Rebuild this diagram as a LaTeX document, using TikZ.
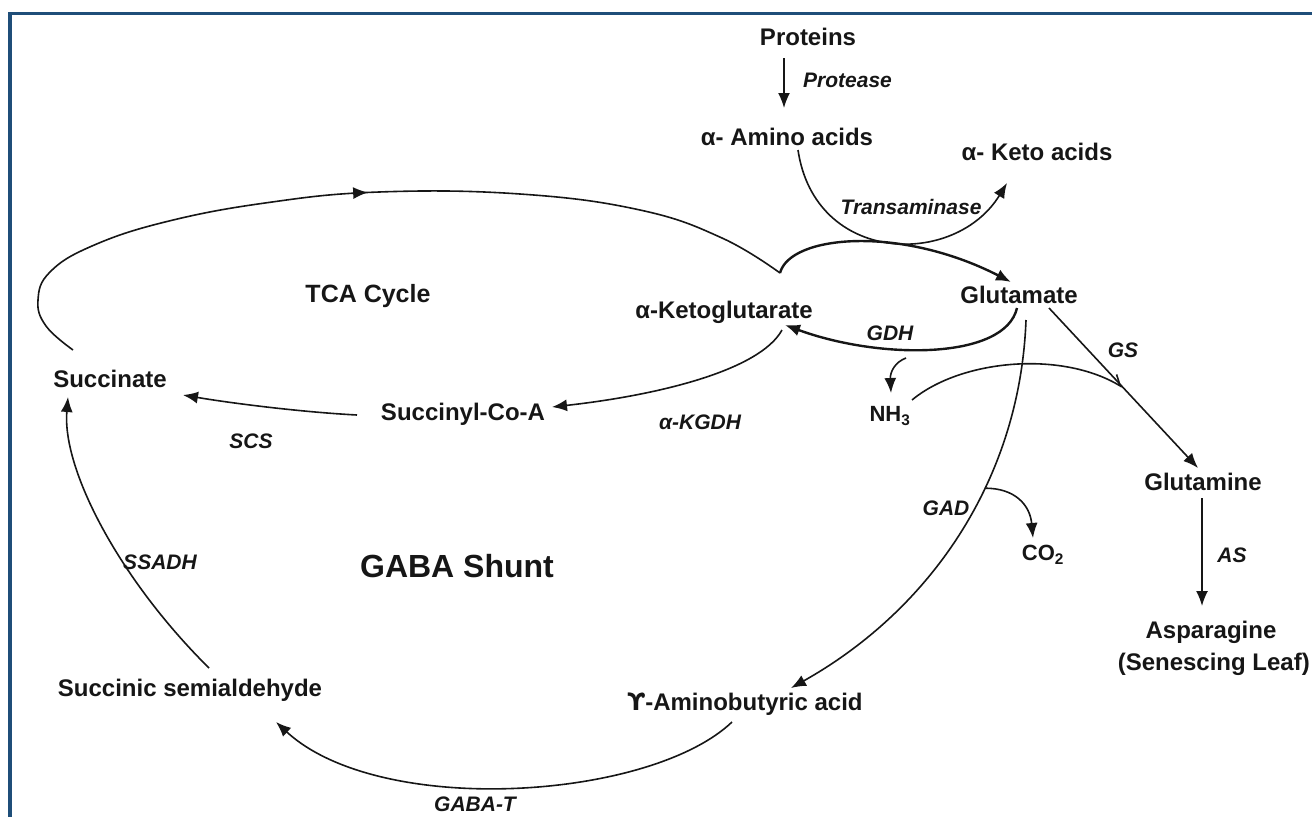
\documentclass[tikz,border=0pt]{standalone}
\usepackage{fontspec}
\setmainfont{Liberation Sans}
\newfontfamily\dejavu{DejaVu Sans}
\usetikzlibrary{arrows.meta,decorations.markings}
\definecolor{frameblue}{RGB}{31,78,121}
\definecolor{ink}{RGB}{22,22,22}
\begin{document}
\begin{tikzpicture}[x=1pt,y=-1pt,
  met/.style={font=\fontsize{24}{28}\selectfont\bfseries, inner sep=0pt, text height=17pt, text depth=0pt, text=ink},
  enz/.style={font=\fontsize{21}{25}\selectfont\bfseries\itshape, inner sep=0pt, text height=15pt, text depth=0pt, text=ink},
  conn/.style={draw=ink, line width=1.6pt},
  boldconn/.style={draw=ink, line width=2.4pt},
  arr/.style={-{Latex[length=15pt,width=12pt]}},
  midarrow/.style={postaction={decorate}, decoration={markings, mark=at position #1 with {\arrow{Latex[length=15pt,width=12pt]}}}}
]
\useasboundingbox (0,0) rectangle (1312,817);
% frame
\fill[frameblue] (8,12) rectangle (1312,15);
\fill[frameblue] (8,12) rectangle (12,817);

% metabolites
\node[met] (prot) at (808,37) {Proteins};
\node[met] (amino) at (787,137) {α- Amino acids};
\node[met] (keto) at (1037,152) {α- Keto acids};
\node[met, font=\fontsize{25}{29}\selectfont\bfseries] (tca) at (368,294) {TCA Cycle};
\node[met] (akg) at (724,310) {α-Ketoglutarate};
\node[met] (glu) at (1019,295) {Glutamate};
\node[met] (succ) at (110,379) {Succinate};
\node[met] (succoa) at (463,412) {Succinyl-Co-A};
\node[met, font=\fontsize{22}{26}\selectfont\bfseries] (nh3) at (890,413) {NH\textsubscript{3}};
\node[met] (gln) at (1203,482) {Glutamine};
\node[met, font=\fontsize{22}{26}\selectfont\bfseries] (co2) at (1043,552) {CO\textsubscript{2}};
\node[met, font=\fontsize{32}{36}\selectfont\bfseries, text height=23pt] (shunt) at (457,566) {GABA Shunt};
\node[met] (asn) at (1211,630) {Asparagine};
\node[met, anchor=east] (sen) at (1310,662) {(Senescing Leaf)};
\node[met] (ssa) at (190,688) {Succinic semialdehyde};
\node[met] (gaba) at (745,702) {{\dejavu ϒ}-Aminobutyric acid};

% enzymes
\node[enz, anchor=west] (protease) at (803,80) {Protease};
\node[enz] (transam) at (911,207) {Transaminase};
\node[enz] (gdh) at (890,333) {GDH};
\node[enz] (gs) at (1123,350) {GS};
\node[enz] (akgdh) at (700,422) {α-KGDH};
\node[enz] (scs) at (251,441) {SCS};
\node[enz] (gad) at (946,508) {GAD};
\node[enz] (asl) at (1232,555) {AS};
\node[enz] (ssadh) at (160,562) {SSADH};
\node[enz] (gabat) at (475,804) {GABA-T};

% connector end points
\coordinate (protS) at (784,58);
\coordinate (aminoN) at (784,108);
\coordinate (aminoS) at (798,150);
\coordinate (ketoW) at (1007,183);
\coordinate (cusp) at (780,273);
\coordinate (gluN) at (1011,282);
\coordinate (gluS1) at (1017,308);
\coordinate (akgE) at (785,325);
\coordinate (akgS) at (782,330);
\coordinate (succoaE) at (552,407);
\coordinate (succoaW) at (357,415);
\coordinate (succE) at (183,395);
\coordinate (succN) at (73,350);
\coordinate (succS) at (68,397);
\coordinate (ssaN) at (209,668);
\coordinate (gabaS) at (732,722);
\coordinate (ssaS) at (276,722);
\coordinate (gluS2) at (1026,320);
\coordinate (gabaN) at (791,688);
\coordinate (gluE) at (1049,308);
\coordinate (glnN) at (1198,468);
\coordinate (glnS) at (1202,498);
\coordinate (asnN) at (1202,606);
\coordinate (nhA) at (906,358);
\coordinate (nh3N) at (891,393);
\coordinate (nh3E) at (912,400);
\coordinate (gsMeet) at (1122,387);
\coordinate (co2N) at (1033,538);

% connectors
\draw[conn, arr] (protS) -- (aminoN);
\draw[conn, arr] (aminoS) .. controls (815,265) and (955,268) .. (ketoW);
\draw[boldconn, arr] (cusp) .. controls (790,235) and (900,225) .. (gluN);
\draw[conn, midarrow=0.5] plot[smooth, tension=0.7] coordinates
  {(succN) (46,326) (38,300) (50,272) (92,246) (165,222) (265,203) (379,192) (520,194) (640,210) (722,238) (cusp)};
\draw[boldconn, arr] (gluS1) .. controls (1005,360) and (880,360) .. (akgE);
\draw[conn, arr] (akgS) .. controls (760,370) and (660,395) .. (succoaE);
\draw[conn, arr] (succoaW) .. controls (300,412) and (230,403) .. (succE);
\draw[conn, arr] (ssaN) .. controls (120,580) and (62,470) .. (succS);
\draw[conn, arr] (gabaS) .. controls (650,800) and (380,818) .. (ssaS);
\draw[conn, arr] (gluS2) .. controls (1020,480) and (930,610) .. coordinate[pos=0.38] (gadpt) (gabaN);
\draw[conn, arr] (gadpt) .. controls (1015,488) and (1030,505) .. (co2N);
\draw[conn, arr] (gluE) -- (glnN);
\draw[conn, arr] (glnS) -- (asnN);
\draw[conn, arr] (nhA) .. controls (895,362) and (890,372) .. (nh3N);
\draw[conn, -{Straight Barb[harpoon,length=9pt,width=16pt]}] (nh3E) .. controls (960,360) and (1060,350) .. (gsMeet);
\end{tikzpicture}
\end{document}
